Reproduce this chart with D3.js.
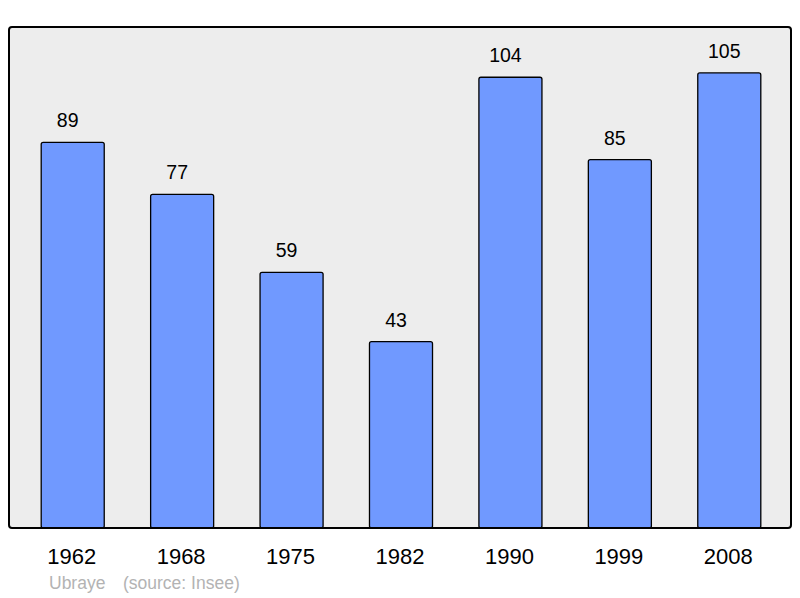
<!DOCTYPE html>
<html>
<head>
<meta charset="utf-8">
<script src="https://cdn.jsdelivr.net/npm/d3@7"></script>
<style>
  body { margin: 0; background: #fff; }
  text { font-family: "Liberation Sans", Arial, sans-serif; }
</style>
</head>
<body>
<div id="chart"></div>
<script>
const years = ["1962", "1968", "1975", "1982", "1990", "1999", "2008"];
const population = [89, 77, 59, 43, 104, 85, 105];
const commune = "Ubraye";
const source = "(source: Insee)";

const width = 800, height = 598;
const frame = {left: 9, top: 27, right: 791, bottom: 528};

let svg = d3.select("#chart")
    .append("svg")
    .attr("width", width)
    .attr("height", height);

// plot background
svg.append("rect")
    .attr("x", frame.left)
    .attr("y", frame.top)
    .attr("width", frame.right - frame.left)
    .attr("height", frame.bottom - frame.top)
    .attr("rx", 3)
    .attr("fill", "#ededed");

let x = d3.scaleBand()
    .domain(years)
    .range([18, 784])
    .paddingInner(0.424)
    .paddingOuter(0.212);

let y = d3.scaleLinear()
    .domain([0, 115.6])
    .range([frame.bottom, frame.top]);

let data = years.map((yr, i) => ({year: yr, value: population[i]}));

svg.selectAll("rect.bar")
    .data(data)
    .join("rect")
    .attr("class", "bar")
    .attr("x", d => x(d.year))
    .attr("y", d => y(d.value))
    .attr("width", x.bandwidth())
    .attr("height", d => y(0) - y(d.value))
    .attr("rx", 2)
    .attr("fill", "#7099ff")
    .attr("stroke", "#000")
    .attr("stroke-width", 1.3);

// value labels sit a little left of the bar centre
svg.selectAll("text.val")
    .data(data)
    .join("text")
    .attr("class", "val")
    .attr("x", d => x(d.year) + x.bandwidth() / 2 - 5)
    .attr("y", d => y(d.value) - 15)
    .attr("text-anchor", "middle")
    .attr("font-size", 19.5)
    .attr("fill", "#000")
    .text(d => d.value);

// frame on top
svg.append("rect")
    .attr("x", frame.left)
    .attr("y", frame.top)
    .attr("width", frame.right - frame.left)
    .attr("height", frame.bottom - frame.top)
    .attr("rx", 3)
    .attr("fill", "none")
    .attr("stroke", "#000")
    .attr("stroke-width", 2);

svg.selectAll("text.year")
    .data(years)
    .join("text")
    .attr("class", "year")
    .attr("x", d => x(d) + x.bandwidth() / 2 - 1)
    .attr("y", 564)
    .attr("text-anchor", "middle")
    .attr("font-size", 22)
    .attr("fill", "#000")
    .text(d => d);

svg.append("text")
    .attr("x", 49)
    .attr("y", 589)
    .attr("font-size", 17.5)
    .attr("fill", "#b3b3b3")
    .text(commune);

svg.append("text")
    .attr("x", 123)
    .attr("y", 589)
    .attr("font-size", 17.5)
    .attr("fill", "#b3b3b3")
    .text(source);
</script>
</body>
</html>
